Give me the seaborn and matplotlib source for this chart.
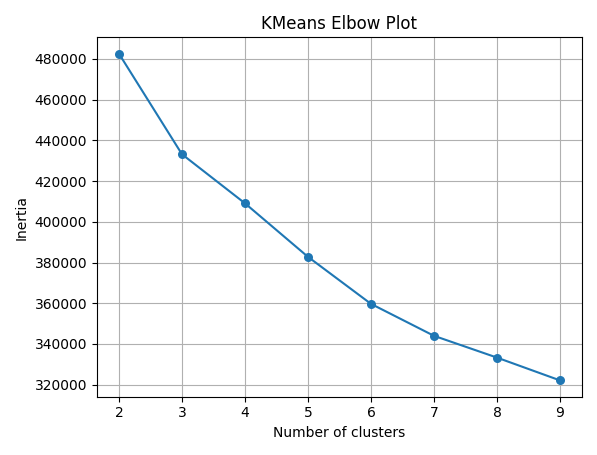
import matplotlib
matplotlib.use("Agg")
import matplotlib.pyplot as plt
import seaborn as sns
import pandas as pd

clusters = [2, 3, 4, 5, 6, 7, 8, 9]
inertia = [482600, 433200, 409100, 382800, 359700, 344000, 333300, 322100]

df = pd.DataFrame({"k": clusters, "inertia": inertia})
fig, ax = plt.subplots(figsize=(5.97, 4.55), dpi=100)
sns.lineplot(data=df, x="k", y="inertia", marker="o", markersize=6.5,
             markeredgewidth=0, color="#1f77b4", ax=ax)
ax.set_title("KMeans Elbow Plot")
ax.set_xlabel("Number of clusters")
ax.set_ylabel("Inertia")
ax.grid(True)
fig.tight_layout()
fig.savefig("out.png", dpi=100)
